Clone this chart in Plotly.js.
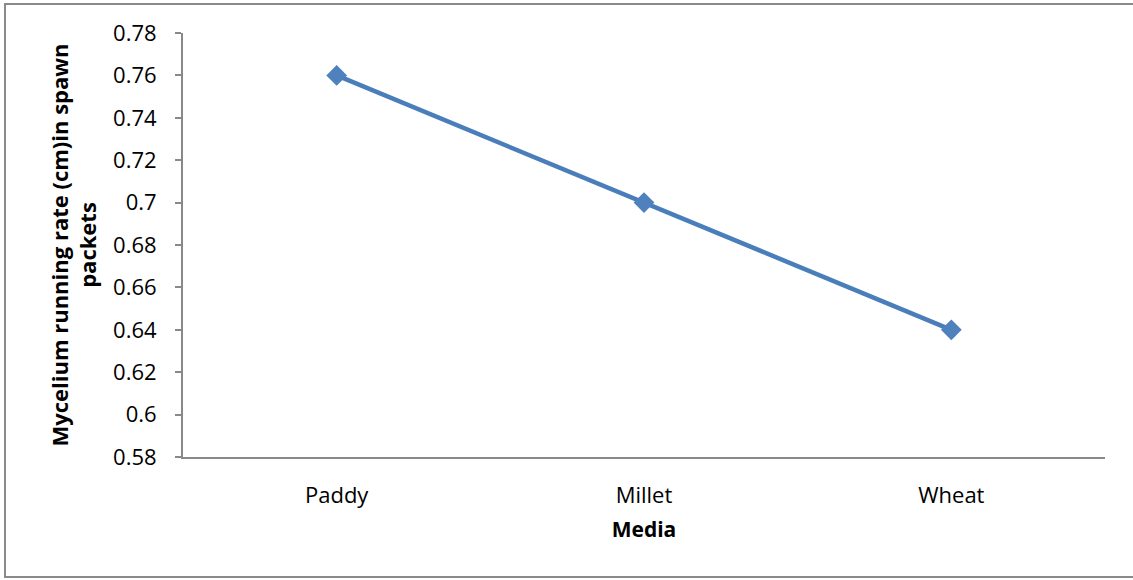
<!DOCTYPE html>
<html>
<head>
<meta charset="utf-8">
<script src="https://cdn.plot.ly/plotly-3.0.1.min.js"></script>
<style>
  html, body { margin: 0; padding: 0; background: #fff; overflow: hidden; }
  #frame { position: absolute; left: 4px; top: 3px; width: 1140px; height: 575px;
           border: 2px solid #8a8a8a; box-sizing: border-box; pointer-events: none; z-index: 5; }
  #chart { position: absolute; left: 0; top: 0; width: 1133px; height: 580px; }
</style>
</head>
<body>
<div id="chart"></div>
<div id="frame"></div>
<script>
// Spawn media and mean mycelium running rate (cm)
const media = ['Paddy', 'Millet', 'Wheat'];
const runningRate = [0.76, 0.70, 0.64];
const yTicks = [0.58, 0.6, 0.62, 0.64, 0.66, 0.68, 0.7, 0.72, 0.74, 0.76, 0.78];
const yTickText = ['0.58', '0.6', '0.62', '0.64', '0.66', '0.68', '0.7', '0.72', '0.74', '0.76', '0.78'];

const FONT = 'Open Sans, Liberation Sans, sans-serif';

const trace = {
  x: [0, 1, 2],
  y: runningRate,
  type: 'scatter',
  mode: 'lines+markers',
  line: { color: '#4A7EBB', width: 4.5 },
  marker: { symbol: 'diamond', size: 16, color: '#4F81BD' },
  hoverinfo: 'x+y'
};

const layout = {
  width: 1133,
  height: 580,
  margin: { l: 183, r: 28, t: 33, b: 123 },
  paper_bgcolor: '#ffffff',
  plot_bgcolor: '#ffffff',
  showlegend: false,
  font: { family: FONT, color: '#000000', size: 22 },
  xaxis: {
    range: [-0.5, 2.5],
    tickmode: 'array',
    tickvals: [0, 1, 2],
    ticktext: media,
    showgrid: false,
    zeroline: false,
    showline: true,
    linecolor: '#898989',
    linewidth: 2,
    ticks: '',
    ticklabelstandoff: 18,
    tickfont: { family: FONT, size: 22, color: '#000' },
    title: { text: '<b>Media</b>', font: { family: FONT, size: 21, color: '#000' }, standoff: 14 }
  },
  yaxis: {
    range: [0.58, 0.78],
    tickmode: 'array',
    tickvals: yTicks,
    ticktext: yTickText,
    showgrid: false,
    zeroline: false,
    showline: true,
    linecolor: '#898989',
    linewidth: 2,
    ticks: 'outside',
    ticklen: 6,
    tickwidth: 2,
    tickcolor: '#898989',
    ticklabelstandoff: 14,
    tickfont: { family: FONT, size: 22, color: '#000' },
    title: {
      text: '<b>Mycelium running rate (cm)in spawn<br>packets</b>',
      font: { family: FONT, size: 22, color: '#000' },
      standoff: 10
    }
  }
};

Plotly.newPlot('chart', [trace], layout, { displayModeBar: false, staticPlot: true });
</script>
</body>
</html>
